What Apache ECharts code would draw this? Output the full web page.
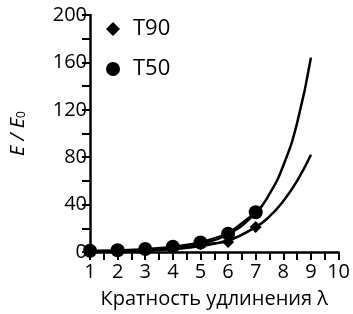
<!DOCTYPE html>
<html><head><meta charset="utf-8">
<script src="https://cdn.jsdelivr.net/npm/echarts@6/dist/echarts.min.js"></script>
<style>html,body{margin:0;padding:0;background:#fff}#c{width:353px;height:314px}</style>
</head><body><div id="c"></div>
<script>
var lambdaPts = [1, 2, 3, 4, 5, 6, 7];
var t90Vals = [0.8, 1.2, 2, 3.5, 6.5, 8.5, 21];
var t50Vals = [1, 1.5, 2.5, 4.5, 8, 15.5, 33.5];
var fitX = [1, 2, 3, 4, 5, 6, 7, 7.5, 8, 8.5, 9];
var t90Fit = [0.2, 0.6, 1.2, 2.5, 5, 10, 21, 30, 43, 60, 82];
var t50Fit = [0.3, 0.6, 1.3, 3, 7, 15, 33, 49, 73, 109, 164];
var xTicks = [1, 2, 3, 4, 5, 6, 7, 8, 9, 10];
var yTicks = [0, 40, 80, 120, 160, 200];

function pairs(xs, ys){ return xs.map(function(x,i){return [x, ys[i]];}); }
var FONT = 'Open Sans';
var chart = echarts.init(document.getElementById('c'), null, {renderer:'canvas'});
chart.setOption({
  animation:false,
  backgroundColor:'#fff',
  grid:{left:84, right:11, top:15, bottom:62, containLabel:false},
  legend:{
    orient:'vertical', left:101, top:13, itemWidth:14, itemHeight:14, itemGap:18,
    textStyle:{fontFamily:FONT, fontSize:22, color:'#000', padding:[0,0,0,8]},
    data:[{name:'T90', icon:'diamond'}, {name:'T50', icon:'circle'}]
  },
  xAxis:{
    type:'value', min:xTicks[0], max:xTicks[xTicks.length-1], interval:1,
    name:'Кратность удлинения λ', nameLocation:'middle', nameGap:37,
    nameTextStyle:{fontFamily:FONT, fontSize:20, color:'#000'},
    axisLine:{show:true, onZero:false, lineStyle:{color:'#000', width:2.5}},
    axisTick:{show:true, inside:false, length:8, lineStyle:{color:'#000', width:2}},
    minorTick:{show:true, splitNumber:2, length:8, lineStyle:{color:'#000', width:2}},
    axisLabel:{fontFamily:FONT, fontSize:20, color:'#000', margin:10},
    splitLine:{show:false}
  },
  yAxis:{
    type:'value', min:yTicks[0], max:yTicks[yTicks.length-1], interval:40,
    name:'{i|E / E}{s|0}', nameLocation:'middle', nameGap:62, nameRotate:90,
    nameTextStyle:{rich:{
      i:{fontFamily:FONT, fontStyle:'italic', fontSize:20, color:'#000'},
      s:{fontFamily:FONT, fontSize:12, color:'#000', verticalAlign:'bottom'}
    }},
    axisLine:{show:true, lineStyle:{color:'#000', width:2.5}},
    axisTick:{show:true, length:8, lineStyle:{color:'#000', width:2}},
    minorTick:{show:true, splitNumber:2, length:8, lineStyle:{color:'#000', width:2}},
    axisLabel:{fontFamily:FONT, fontSize:20, color:'#000', margin:3},
    splitLine:{show:false}
  },
  series:[
    {name:'T90fit', type:'line', data:pairs(fitX, t90Fit), smooth:true, showSymbol:false,
     lineStyle:{color:'#000', width:2.5}, z:2},
    {name:'T50fit', type:'line', data:pairs(fitX, t50Fit), smooth:true, showSymbol:false,
     lineStyle:{color:'#000', width:2.5}, z:2},
    {name:'T90', type:'line', data:pairs(lambdaPts, t90Vals), symbol:'diamond', symbolSize:12,
     itemStyle:{color:'#000'}, lineStyle:{color:'#000', width:2}, z:3},
    {name:'T50', type:'line', data:pairs(lambdaPts, t50Vals), symbol:'circle', symbolSize:14,
     itemStyle:{color:'#000'}, lineStyle:{color:'#000', width:2}, z:4}
  ]
});
</script></body></html>
